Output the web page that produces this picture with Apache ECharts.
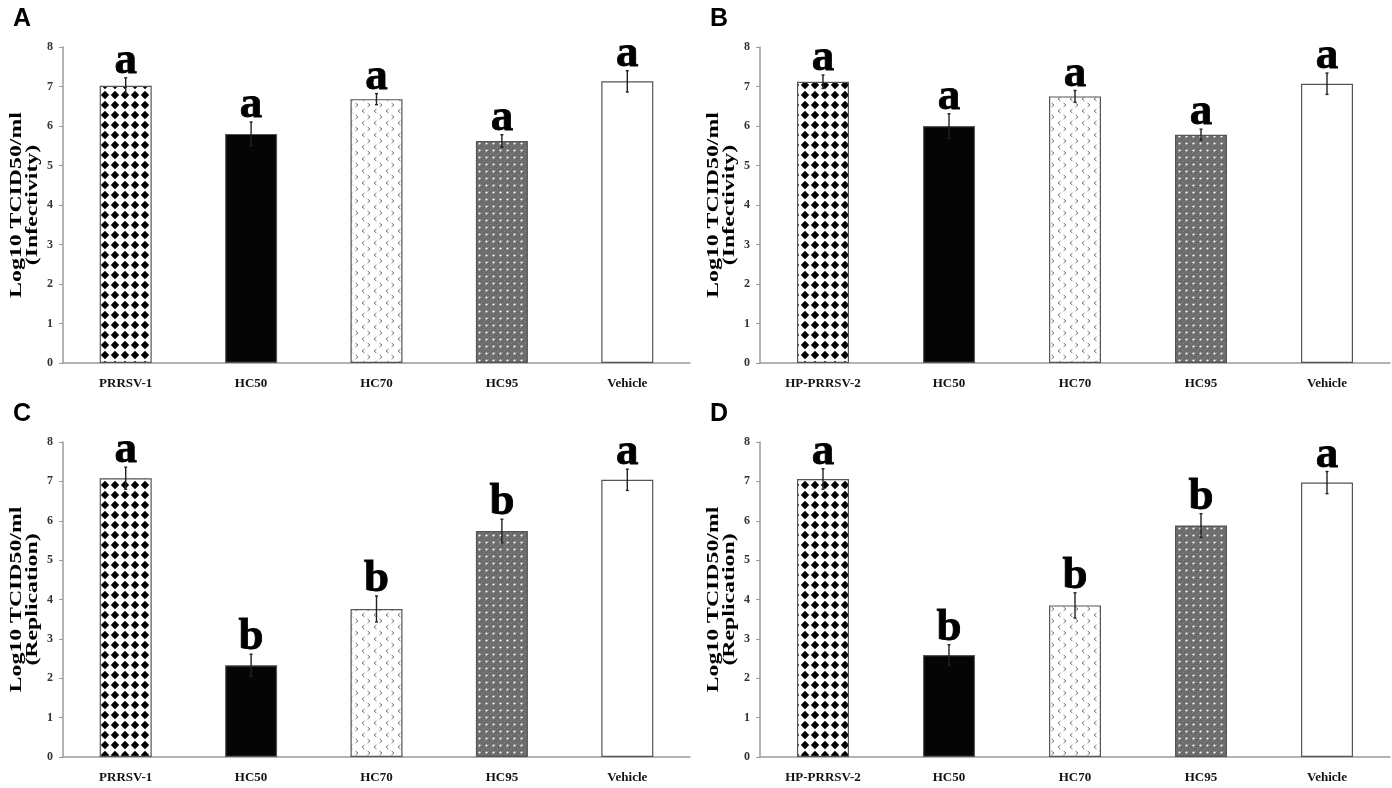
<!DOCTYPE html>
<html>
<head>
<meta charset="utf-8">
<script src="https://cdn.jsdelivr.net/npm/echarts@6/dist/echarts.min.js"></script>
<style>
  html, body { margin: 0; padding: 0; background: #fff; }
  #chart { width: 1392px; height: 788px; }
</style>
</head>
<body>
<div id="chart"></div>
<script>
// categories
var catsType1 = ['PRRSV-1', 'HC50', 'HC70', 'HC95', 'Vehicle'];
var catsType2 = ['HP-PRRSV-2', 'HC50', 'HC70', 'HC95', 'Vehicle'];
var yTicks = [0, 1, 2, 3, 4, 5, 6, 7, 8];

// A: infectivity, PRRSV-1
var infectType1 = [7.02, 5.8, 6.68, 5.62, 7.13];
var infectType1Err = [0.2, 0.3, 0.14, 0.16, 0.27];
var infectType1Sig = ['a', 'a', 'a', 'a', 'a'];

// B: infectivity, HP-PRRSV-2
var infectType2 = [7.12, 6.0, 6.75, 5.78, 7.07];
var infectType2Err = [0.17, 0.31, 0.15, 0.14, 0.27];
var infectType2Sig = ['a', 'a', 'a', 'a', 'a'];

// C: replication, PRRSV-1
var replType1 = [7.08, 2.33, 3.76, 5.74, 7.04];
var replType1Err = [0.28, 0.28, 0.33, 0.3, 0.27];
var replType1Sig = ['a', 'b', 'b', 'b', 'a'];

// D: replication, HP-PRRSV-2
var replType2 = [7.06, 2.59, 3.85, 5.88, 6.97];
var replType2Err = [0.26, 0.26, 0.32, 0.3, 0.28];
var replType2Sig = ['a', 'b', 'b', 'b', 'a'];

function makeTile(w, h, draw) {
    var c = document.createElement('canvas');
    c.width = w;
    c.height = h;
    draw(c.getContext('2d'));
    return c;
}

var diamondTile = makeTile(10, 10, function (ctx) {
    ctx.fillStyle = '#fff';
    ctx.fillRect(0, 0, 10, 10);
    ctx.fillStyle = '#000';
    ctx.beginPath();
    ctx.moveTo(5, 0.8); ctx.lineTo(9.2, 5); ctx.lineTo(5, 9.2); ctx.lineTo(0.8, 5);
    ctx.closePath();
    ctx.fill();
});

var chevronTile = makeTile(12, 12, function (ctx) {
    ctx.fillStyle = '#fff';
    ctx.fillRect(0, 0, 12, 12);
    ctx.strokeStyle = '#777';
    ctx.lineWidth = 1;
    ctx.beginPath();
    ctx.moveTo(4.5, 1); ctx.lineTo(2, 3); ctx.lineTo(4.5, 5);
    ctx.moveTo(7.5, 7); ctx.lineTo(10, 9); ctx.lineTo(7.5, 11);
    ctx.stroke();
});

var dotTile = makeTile(7, 7, function (ctx) {
    ctx.fillStyle = '#6c6c6c';
    ctx.fillRect(0, 0, 7, 7);
    ctx.fillStyle = '#888';
    ctx.fillRect(0, 0, 1, 1);
    ctx.fillRect(2, 5, 1, 1);
    ctx.fillRect(5, 2, 1, 1);
    ctx.fillStyle = '#fff';
    ctx.beginPath();
    ctx.arc(3.5, 3.5, 1.1, 0, Math.PI * 2);
    ctx.fill();
});

var fills = [
    { image: diamondTile, repeat: 'repeat' },
    '#050505',
    { image: chevronTile, repeat: 'repeat' },
    { image: dotTile, repeat: 'repeat' },
    '#ffffff'
];

var panels = [
    { letter: 'A', cats: catsType1, vals: infectType1, err: infectType1Err, sig: infectType1Sig, sub: '(Infectivity)', left: 63, top: 47, width: 627, height: 316 },
    { letter: 'B', cats: catsType2, vals: infectType2, err: infectType2Err, sig: infectType2Sig, sub: '(Infectivity)', left: 760, top: 47, width: 630, height: 316 },
    { letter: 'C', cats: catsType1, vals: replType1, err: replType1Err, sig: replType1Sig, sub: '(Replication)', left: 63, top: 442, width: 627, height: 315 },
    { letter: 'D', cats: catsType2, vals: replType2, err: replType2Err, sig: replType2Sig, sub: '(Replication)', left: 760, top: 442, width: 630, height: 315 }
];

var grids = [], xAxes = [], yAxes = [], series = [], graphics = [];

panels.forEach(function (p, k) {
    grids.push({ left: p.left, top: p.top, width: p.width, height: p.height });
    xAxes.push({
        type: 'category',
        gridIndex: k,
        data: p.cats,
        axisLine: { lineStyle: { color: '#9a9a9a', width: 1.5 } },
        axisTick: { length: 6, lineStyle: { color: '#9a9a9a' } },
        axisLabel: {
            interval: 0, margin: 14, color: '#111',
            fontFamily: 'Liberation Serif', fontWeight: 'bold', fontSize: 13
        }
    });
    yAxes.push({
        type: 'value',
        gridIndex: k,
        min: yTicks[0],
        max: yTicks[yTicks.length - 1],
        interval: 1,
        splitLine: { show: false },
        axisLine: { show: true, lineStyle: { color: '#9a9a9a', width: 1.5 } },
        axisTick: { show: true, length: 4, lineStyle: { color: '#9a9a9a' } },
        axisLabel: {
            margin: 10, color: '#333',
            fontFamily: 'Liberation Serif', fontWeight: 'bold', fontSize: 12
        }
    });
    series.push({
        type: 'bar',
        xAxisIndex: k,
        yAxisIndex: k,
        barWidth: 52,
        data: p.vals.map(function (v, i) {
            return { value: v, itemStyle: { color: fills[i] } };
        }),
        itemStyle: { borderColor: '#555', borderWidth: 1.2 },
        silent: true
    });
    series.push({
        type: 'custom',
        xAxisIndex: k,
        yAxisIndex: k,
        data: p.vals.map(function (v, i) { return [i, v, p.err[i]]; }),
        renderItem: function (params, api) {
            var i = api.value(0), v = api.value(1), e = api.value(2);
            var hi = api.coord([i, v + e]);
            var lo = api.coord([i, v - e]);
            var style = { stroke: '#222', lineWidth: 1.4 };
            return {
                type: 'group',
                children: [
                    { type: 'line', shape: { x1: hi[0], y1: hi[1], x2: lo[0], y2: lo[1] }, style: style },
                    { type: 'line', shape: { x1: hi[0] - 1.5, y1: hi[1], x2: hi[0] + 1.5, y2: hi[1] }, style: style },
                    { type: 'line', shape: { x1: lo[0] - 1.5, y1: lo[1], x2: lo[0] + 1.5, y2: lo[1] }, style: style },
                    {
                        type: 'text',
                        x: hi[0], y: hi[1] + 6,
                        style: {
                            text: p.sig[params.dataIndex],
                            align: 'center', verticalAlign: 'bottom',
                            font: 'bold 45px "Liberation Serif"', fill: '#000',
                            stroke: '#000', lineWidth: 0.8
                        }
                    }
                ]
            };
        },
        z: 3,
        silent: true
    });

    var dx = p.left - 63;
    var cy = p.top + p.height / 2;
    graphics.push({
        type: 'text', left: 13 + dx, top: p.top - 40,
        style: { text: p.letter, font: 'bold 25px "Liberation Sans"', fill: '#000' }
    });
    graphics.push({
        type: 'text', x: 16.5 + dx, y: cy, rotation: Math.PI / 2, scaleX: 1.4,
        style: { text: 'Log10 TCID50/ml', font: 'bold 17px "Liberation Serif"', fill: '#000', align: 'center', verticalAlign: 'middle' }
    });
    graphics.push({
        type: 'text', x: 32.5 + dx, y: cy, rotation: Math.PI / 2, scaleX: 1.4,
        style: { text: p.sub, font: 'bold 17px "Liberation Serif"', fill: '#000', align: 'center', verticalAlign: 'middle' }
    });
});

var chart = echarts.init(document.getElementById('chart'));
chart.setOption({
    animation: false,
    backgroundColor: '#fff',
    grid: grids,
    xAxis: xAxes,
    yAxis: yAxes,
    series: series,
    graphic: graphics
});
</script>
</body>
</html>
